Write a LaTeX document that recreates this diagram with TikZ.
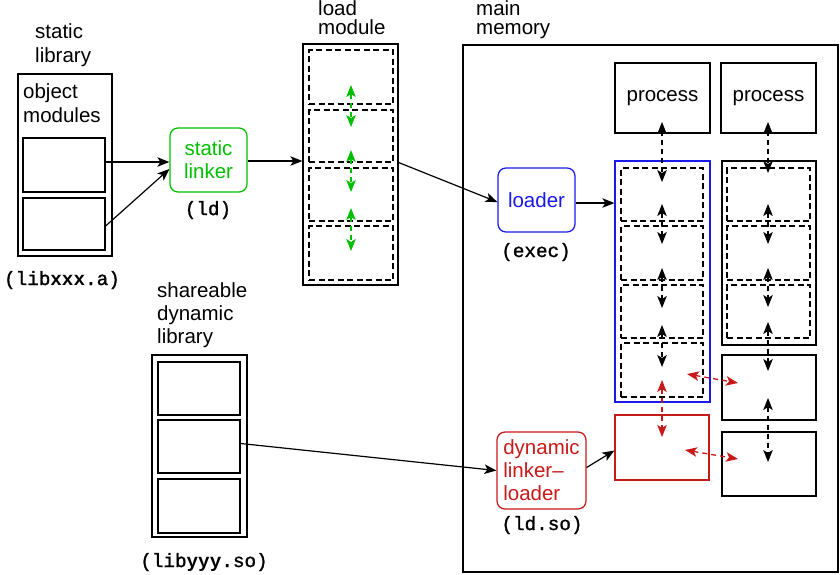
\documentclass[tikz,border=0pt]{standalone}
\usepackage{fontspec}
\setmainfont{Liberation Sans}
\setmonofont{Liberation Mono}
\newfontfamily\monomed[FakeBold=1.3]{Liberation Mono}
\usetikzlibrary{arrows.meta,calc}
\definecolor{lgreen}{RGB}{0,190,0}
\definecolor{lblue}{RGB}{25,25,235}
\definecolor{lred}{RGB}{200,25,25}
\begin{document}
\begin{tikzpicture}[x=1pt,y=-1pt,
  box/.style={draw, line width=1.25pt, inner sep=0pt},
  dbox/.style={draw, line width=1.2pt, dash pattern=on 6pt off 3.5pt, inner sep=0pt},
  rbox/.style={draw, line width=1.25pt, rounded corners=8pt, inner sep=0pt, align=center, font=\fontsize{20.5}{23}\selectfont},
  lbl/.style={inner sep=0pt, font=\fontsize{20.5}{23}\selectfont},
  mono/.style={inner sep=0pt, font=\fontsize{19.3}{22}\monomed},
  tip/.tip={Stealth[length=12pt,width=9.5pt,inset=3pt]},
  arr/.style={-tip, line width=1.2pt},
  darr/.style={tip-tip, line width=1.3pt, dash pattern=on 5pt off 4pt},
]
\useasboundingbox (0,0) rectangle (840,574);

% ---------- static library ----------
\node[lbl, anchor=base west] (tsl1) at (35,38) {static};
\node[lbl, anchor=base west] (tsl2) at (35,62) {library};
\node[box, minimum width=94pt, minimum height=182pt] (slib) at (65,165) {};
\node[lbl, anchor=base west] (tom1) at (23,98) {object};
\node[lbl, anchor=base west] (tom2) at (23,122) {modules};
\node[box, minimum width=82pt, minimum height=54pt] (so1) at (64,165) {};
\node[box, minimum width=82pt, minimum height=52pt] (so2) at (64,224) {};
\node[mono, anchor=base] (tlibx) at (62,285) {(lib{\ttfamily\bfseries xxx}.a)};

% ---------- static linker ----------
\node[rbox, draw=lgreen, text=lgreen, minimum width=77pt, minimum height=64pt] (linker) at (208.5,160) {static\\linker};
\node[mono, anchor=base] (tld) at (208,215) {(ld)};

% ---------- load module ----------
\node[lbl, anchor=base west] (tlm1) at (318,15) {load};
\node[lbl, anchor=base west] (tlm2) at (318,34) {module};
\node[box, minimum width=95pt, minimum height=241pt] (lm) at (350.5,164.5) {};
\node[dbox, minimum width=84pt, minimum height=54pt] (lm1) at (351,77) {};
\node[dbox, minimum width=84pt, minimum height=52pt] (lm2) at (351,136) {};
\node[dbox, minimum width=84pt, minimum height=53pt] (lm3) at (351,194.5) {};
\node[dbox, minimum width=84pt, minimum height=54pt] (lm4) at (351,253) {};

% ---------- shareable dynamic library ----------
\node[lbl, anchor=base west] (tsd1) at (157,297) {shareable};
\node[lbl, anchor=base west] (tsd2) at (157,320) {dynamic};
\node[lbl, anchor=base west] (tsd3) at (157,343) {library};
\node[box, minimum width=95pt, minimum height=182pt] (dlib) at (199.5,446) {};
\node[box, minimum width=82pt, minimum height=53pt] (d1) at (199,388.5) {};
\node[box, minimum width=82pt, minimum height=53pt] (d2) at (199,446.5) {};
\node[box, minimum width=82pt, minimum height=54pt] (d3) at (199,506) {};
\node[mono, anchor=base] (tliby) at (204,567) {(lib{\ttfamily\bfseries yyy}.so)};

% ---------- main memory ----------
\node[lbl, anchor=base west] (tmm1) at (476,15) {main};
\node[lbl, anchor=base west] (tmm2) at (476,34) {memory};
\node[box, minimum width=375pt, minimum height=527pt] (mm) at (650.5,308.5) {};

\node[box, minimum width=95pt, minimum height=70pt, lbl] (p1) at (662.5,98) {process};
\node[box, minimum width=95pt, minimum height=70pt, lbl] (p2) at (768.5,98) {process};

\node[rbox, draw=lblue, text=lblue, minimum width=77pt, minimum height=64pt] (loader) at (536.5,200) {loader};
\node[mono, anchor=base] (texec) at (536,257) {(exec)};

\node[box, draw=lblue, minimum width=95pt, minimum height=241pt] (bimg) at (662.5,281.5) {};
\node[dbox, minimum width=82pt, minimum height=53pt] (b1) at (662,194.5) {};
\node[dbox, minimum width=82pt, minimum height=54pt] (b2) at (662,253) {};
\node[dbox, minimum width=82pt, minimum height=53pt] (b3) at (662,311.5) {};
\node[dbox, minimum width=82pt, minimum height=54pt] (b4) at (662,370) {};

\node[box, minimum width=94pt, minimum height=184pt] (rimg) at (769,253) {};
\node[dbox, minimum width=83pt, minimum height=53pt] (r1) at (768.5,194.5) {};
\node[dbox, minimum width=83pt, minimum height=54pt] (r2) at (768.5,253) {};
\node[dbox, minimum width=83pt, minimum height=53pt] (r3) at (768.5,311.5) {};
\node[box, minimum width=94pt, minimum height=65pt] (s1) at (769,387.5) {};
\node[box, minimum width=94pt, minimum height=64pt] (s2) at (769,464) {};

\node[box, draw=lred, minimum width=94pt, minimum height=65pt] (red) at (662,447.5) {};
\node[rbox, draw=lred, text=lred, align=left, minimum width=89pt, minimum height=77pt] (dll) at (541.5,470.5) {dynamic\\linker–\\loader};
\node[mono, anchor=base] (tldso) at (542,530) {(ld.so)};

% ---------- solid connectors ----------
\draw[arr] ([yshift=3pt]so1.east) -- ([yshift=3pt]so1.east -| linker.west);
\draw[arr] ([yshift=-2pt]so2.east) -- ([yshift=-9pt]linker.west);
\draw[arr] ([yshift=-1pt]linker.east) -- ([yshift=-1pt]linker.east -| lm.west);
\draw[arr] ([yshift=2pt]lm.east) -- ([yshift=-2pt]loader.west);
\draw[arr] ([yshift=-3pt]loader.east) -- ([yshift=-3pt]loader.east -| bimg.west);
\draw[arr] ([yshift=3pt]d2.east) -- (dll.west);
\draw[arr] ([yshift=3pt]dll.east) -- ([yshift=-3pt]red.west);

% ---------- green dashed arrows in load module ----------
\coordinate (g1a) at (351,85);  \coordinate (g1b) at (351,127);
\coordinate (g2a) at (351,150); \coordinate (g2b) at (351,192);
\coordinate (g3a) at (351,208); \coordinate (g3b) at (351,251);
\draw[darr, lgreen] (g1a) -- (g1b);
\draw[darr, lgreen] (g2a) -- (g2b);
\draw[darr, lgreen] (g3a) -- (g3b);

% ---------- black dashed arrows, blue column ----------
\coordinate (k1a) at (662,122); \coordinate (k1b) at (662,182);
\coordinate (k2a) at (662,204); \coordinate (k2b) at (662,244);
\coordinate (k3a) at (662,268); \coordinate (k3b) at (662,308);
\coordinate (k4a) at (662,325); \coordinate (k4b) at (662,367);
\draw[darr] (k1a) -- (k1b);
\draw[darr] (k2a) -- (k2b);
\draw[darr] (k3a) -- (k3b);
\draw[darr] (k4a) -- (k4b);
\coordinate (q1a) at (662,380); \coordinate (q1b) at (662,437);
\draw[darr, lred] (q1a) -- (q1b);

% ---------- black dashed arrows, right column ----------
\coordinate (m1a) at (768,122); \coordinate (m1b) at (768,173);
\coordinate (m2a) at (768,204); \coordinate (m2b) at (768,244);
\coordinate (m3a) at (768,268); \coordinate (m3b) at (768,307);
\coordinate (m4a) at (768,322); \coordinate (m4b) at (768,371);
\coordinate (m5a) at (768,398); \coordinate (m5b) at (768,462);
\draw[darr] (m1a) -- (m1b);
\draw[darr] (m2a) -- (m2b);
\draw[darr] (m3a) -- (m3b);
\draw[darr] (m4a) -- (m4b);
\draw[darr] (m5a) -- (m5b);

% ---------- red horizontal dashed arrows ----------
\coordinate (h1a) at (687,374); \coordinate (h1b) at (738,383);
\coordinate (h2a) at (685,450); \coordinate (h2b) at (738,459);
\draw[darr, lred] (h1a) -- (h1b);
\draw[darr, lred] (h2a) -- (h2b);
\end{tikzpicture}
\end{document}
